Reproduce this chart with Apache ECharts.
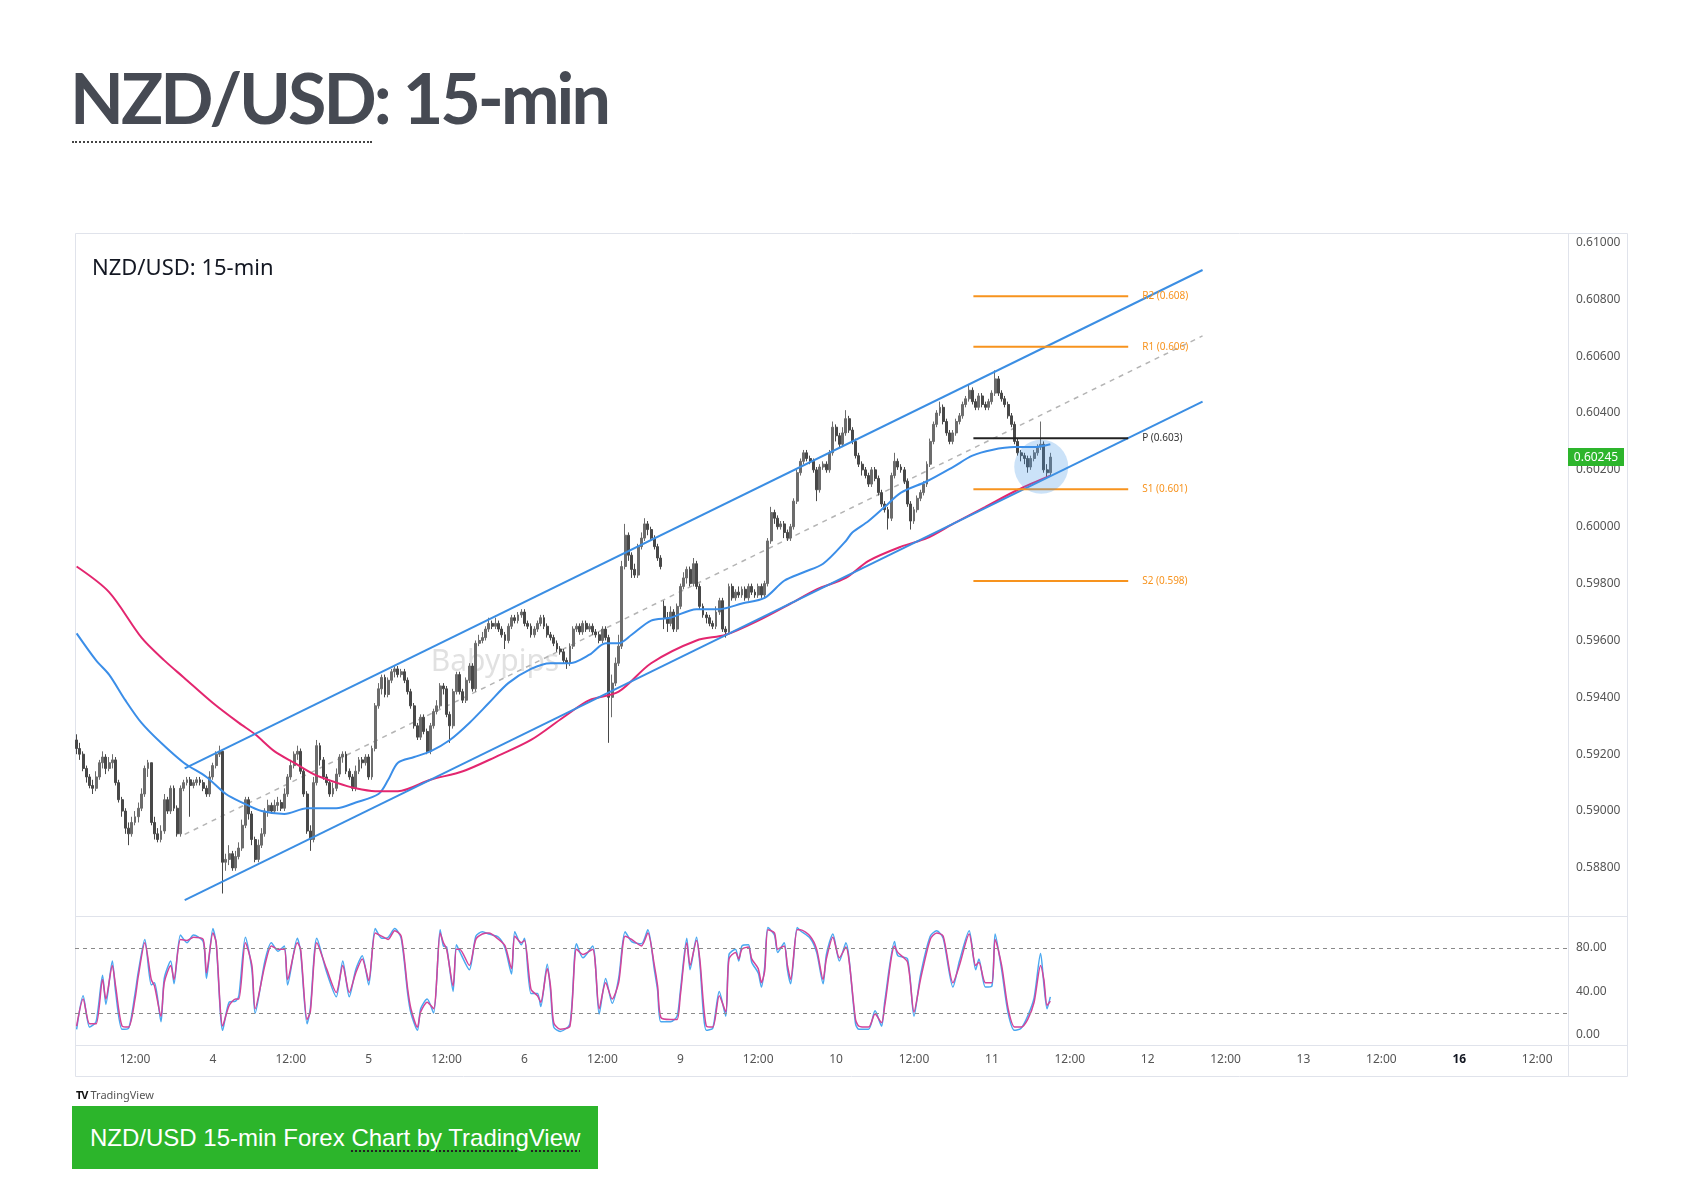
<!DOCTYPE html>
<html><head><meta charset="utf-8">
<script src="https://cdn.jsdelivr.net/npm/echarts@6/dist/echarts.min.js"></script>
<style>
html,body{margin:0;padding:0;background:#fff;width:1697px;height:1179px;overflow:hidden;}
#chart{position:absolute;left:0;top:0;width:1697px;height:1179px;}
#ptitle{position:absolute;left:70px;top:61px;margin:0;font-family:Lato,"Noto Sans",sans-serif;font-weight:700;font-size:70px;letter-spacing:-3px;line-height:72px;color:#464a53;white-space:nowrap;}
#pline{position:absolute;left:72px;top:141px;width:300px;height:0;border-top:2px dotted #444;}
#tv{position:absolute;left:76px;top:1087px;font-family:"Noto Sans",sans-serif;font-size:11px;color:#555;white-space:nowrap;}
#tv b{color:#111;font-size:11px;letter-spacing:-1px;margin-right:3px;}
#btn{position:absolute;left:72px;top:1106px;width:526px;height:63px;background:#2cb52b;display:flex;align-items:center;box-sizing:border-box;padding-left:18px;font-family:"Liberation Sans",Arial,sans-serif;font-size:24px;color:#fff;white-space:nowrap;}
#btn span{text-decoration:underline dotted #222;text-underline-offset:5px;text-decoration-thickness:2px;}
</style></head><body>
<div id="chart"></div>
<h1 id="ptitle">NZD/USD: 15-min</h1>
<div id="pline"></div>
<div id="tv"><b>TV</b>TradingView</div>
<div id="btn">NZD/USD 15-min Forex&nbsp;<span>Chart by TradingView</span></div>
<script>
// ---- time axis (30-min bars starting day 3 at 03:00) ----
const days = [3,4,5,6,9,10,11,12,13,16];
const firstBarMinutes = 180;
const barMinutes = 30;
const nCats = 460;

// ---- price candles [open, close, low, high] in 1e-5 units ----
const candles = [
[59250,59220,59200,59270],[59220,59200,59180,59240],[59200,59150,59140,59210],[59150,59120,59100,59160],[59120,59090,59080,59130],
[59090,59080,59060,59110],[59080,59120,59070,59140],[59120,59170,59110,59180],[59170,59190,59150,59210],[59190,59150,59130,59200],
[59150,59170,59140,59190],[59170,59180,59150,59200],[59180,59100,59090,59190],[59100,59040,59030,59110],[59040,59000,58980,59050],
[59000,58940,58920,59010],[58940,58920,58880,58960],[58920,58960,58910,58980],[58960,58980,58950,59000],[58980,59010,58960,59030],
[59010,59060,59000,59080],[59060,59150,59050,59160],[59150,59170,59120,59180],[59170,58960,58950,59170],[58960,58920,58900,58980],
[58920,58900,58890,58940],[58900,58930,58890,58950],[58930,59040,58920,59060],[59040,59000,58990,59050],[59000,59080,58990,59090],
[59080,59010,59000,59090],[59010,58920,58910,59020],[58920,59080,58910,59090],[59080,59100,59070,59110],[59100,59110,59090,59120],
[59110,59090,58980,59120],[59090,59100,59080,59110],[59100,59110,59090,59120],[59110,59100,59090,59120],[59100,59080,59070,59110],
[59080,59060,59050,59090],[59060,59120,59050,59140],[59120,59160,59110,59170],[59160,59200,59150,59210],[59200,59210,59190,59230],
[59210,58820,58710,59210],[58820,58830,58790,58850],[58830,58850,58810,58880],[58850,58800,58790,58860],[58800,58840,58790,58860],
[58840,58870,58830,58890],[58870,58950,58860,58970],[58950,59040,58940,59050],[59040,58990,58970,59050],[58990,58900,58880,59000],
[58900,58830,58820,58910],[58830,58880,58820,58900],[58880,58920,58870,58940],[58920,59000,58910,59010],[59000,59020,58980,59040],
[59020,59000,58990,59030],[59000,59020,58990,59040],[59020,59030,59000,59050],[59030,59010,59000,59040],[59010,59060,59000,59080],
[59060,59120,59050,59130],[59120,59160,59110,59180],[59160,59200,59150,59210],[59200,59210,59180,59230],[59210,59140,59130,59220],
[59140,59060,59050,59150],[59060,58930,58920,59070],[58930,58900,58860,58950],[58900,59100,58890,59120],[59100,59230,59090,59250],
[59230,59180,59160,59240],[59180,59120,59110,59190],[59120,59100,59090,59130],[59100,59060,59050,59110],[59060,59080,59050,59100],
[59080,59130,59070,59150],[59130,59190,59120,59200],[59190,59200,59170,59210],[59200,59140,59130,59210],[59140,59120,59110,59150],
[59120,59080,59070,59130],[59080,59140,59070,59160],[59140,59180,59130,59190],[59180,59170,59150,59190],[59170,59190,59160,59200],
[59190,59120,59110,59200],[59120,59220,59110,59230],[59220,59370,59210,59380],[59370,59430,59360,59450],[59430,59470,59410,59480],
[59470,59410,59400,59480],[59410,59460,59400,59470],[59460,59490,59450,59500],[59490,59500,59470,59510],[59500,59480,59470,59510],
[59480,59490,59470,59500],[59490,59460,59450,59500],[59460,59420,59410,59470],[59420,59370,59360,59430],[59370,59300,59290,59380],
[59300,59260,59250,59310],[59260,59330,59250,59340],[59330,59280,59270,59340],[59280,59210,59200,59290],[59210,59300,59200,59310],
[59300,59350,59290,59360],[59350,59370,59340,59390],[59370,59440,59360,59450],[59440,59430,59410,59450],[59430,59340,59330,59440],
[59340,59300,59240,59350],[59300,59420,59290,59430],[59420,59480,59410,59490],[59480,59420,59410,59490],[59420,59390,59380,59430],
[59390,59460,59380,59470],[59460,59510,59450,59520],[59510,59430,59420,59520],[59430,59590,59420,59600],[59590,59600,59580,59620],
[59600,59610,59590,59630],[59610,59640,59600,59650],[59640,59660,59630,59680],[59660,59650,59640,59670],[59650,59660,59640,59680],
[59660,59640,59630,59670],[59640,59620,59610,59650],[59620,59600,59570,59630],[59600,59650,59590,59660],[59650,59680,59640,59690],
[59680,59670,59660,59690],[59670,59690,59660,59700],[59690,59700,59680,59710],[59700,59660,59650,59710],[59660,59650,59640,59670],
[59650,59620,59610,59660],[59620,59640,59610,59650],[59640,59660,59630,59670],[59660,59680,59650,59690],[59680,59650,59640,59690],
[59650,59620,59610,59660],[59620,59610,59600,59630],[59610,59590,59580,59620],[59590,59570,59560,59600],[59570,59560,59550,59580],
[59560,59530,59520,59570],[59530,59520,59500,59540],[59520,59580,59510,59590],[59580,59640,59570,59650],[59640,59650,59630,59660],
[59650,59630,59620,59660],[59630,59660,59620,59670],[59660,59640,59630,59670],[59640,59650,59630,59660],[59650,59630,59620,59660],
[59630,59620,59610,59640],[59620,59600,59590,59630],[59600,59640,59590,59650],[59640,59610,59600,59650],[59610,59400,59240,59620],
[59400,59450,59330,59480],[59450,59520,59440,59540],[59520,59580,59510,59620],[59580,59860,59570,59880],[59860,59970,59850,60010],
[59970,59900,59880,59980],[59900,59850,59820,59910],[59850,59830,59820,59870],[59830,59930,59820,59940],[59930,59960,59920,59980],
[59960,60010,59950,60030],[60010,59990,59970,60020],[59990,59960,59950,60000],[59960,59930,59920,59970],[59930,59890,59880,59940],
[59890,59860,59850,59900],[59720,59680,59640,59740],[59680,59660,59630,59700],[59660,59700,59650,59720],[59700,59640,59630,59710],
[59640,59720,59630,59730],[59720,59790,59710,59800],[59790,59820,59780,59840],[59820,59850,59800,59860],[59850,59800,59790,59860],
[59800,59870,59790,59890],[59870,59790,59780,59880],[59790,59720,59710,59800],[59720,59690,59680,59730],[59690,59680,59660,59700],
[59680,59660,59650,59690],[59660,59650,59640,59670],[59650,59700,59640,59720],[59700,59740,59690,59750],[59740,59640,59630,59750],
[59640,59630,59610,59650],[59630,59790,59620,59800],[59790,59750,59740,59800],[59750,59770,59740,59780],[59770,59760,59750,59790],
[59760,59780,59750,59790],[59780,59750,59740,59790],[59750,59790,59740,59800],[59790,59770,59760,59800],[59770,59760,59750,59780],
[59760,59790,59750,59800],[59790,59760,59750,59800],[59760,59800,59750,59810],[59800,59950,59790,59960],[59950,60050,59940,60070],
[60050,60030,60010,60060],[60030,60000,59990,60040],[60000,60010,59990,60020],[60010,59980,59960,60020],[59980,59960,59950,59990],
[59960,60000,59950,60010],[60000,60090,59990,60100],[60090,60190,60080,60200],[60190,60230,60180,60240],[60230,60260,60220,60270],
[60260,60240,60230,60270],[60240,60230,60220,60250],[60230,60200,60190,60240],[60200,60130,60090,60210],[60130,60210,60120,60220],
[60210,60220,60200,60230],[60220,60200,60190,60230],[60200,60260,60190,60270],[60260,60350,60250,60370],[60350,60320,60300,60360],
[60320,60290,60280,60330],[60290,60330,60280,60350],[60330,60380,60320,60410],[60380,60340,60330,60390],[60340,60300,60290,60350],
[60300,60250,60240,60310],[60250,60220,60210,60260],[60220,60200,60180,60230],[60200,60180,60170,60210],[60180,60150,60140,60190],
[60150,60200,60140,60210],[60200,60170,60160,60210],[60170,60120,60110,60180],[60120,60080,60070,60130],[60080,60060,60050,60090],
[60060,60030,59990,60070],[60030,60180,60020,60190],[60180,60230,60170,60260],[60230,60210,60200,60240],[60210,60200,60190,60220],
[60200,60160,60150,60210],[60160,60080,60070,60170],[60080,60020,59990,60090],[60020,60060,60010,60070],[60060,60100,60050,60110],
[60100,60120,60090,60130],[60120,60150,60110,60160],[60150,60220,60140,60230],[60220,60300,60210,60310],[60300,60360,60290,60370],
[60360,60400,60350,60410],[60400,60420,60390,60440],[60420,60370,60360,60430],[60370,60330,60320,60380],[60330,60300,60290,60340],
[60300,60330,60290,60340],[60330,60370,60320,60380],[60370,60390,60360,60400],[60390,60430,60380,60440],[60430,60450,60420,60460],
[60450,60480,60440,60500],[60480,60440,60430,60490],[60440,60420,60410,60450],[60420,60460,60410,60470],[60460,60430,60420,60470],
[60430,60420,60410,60440],[60420,60440,60410,60450],[60440,60470,60430,60480],[60470,60520,60460,60550],[60520,60470,60460,60530],
[60470,60450,60440,60480],[60450,60430,60420,60460],[60430,60390,60380,60440],[60390,60360,60350,60400],[60360,60300,60290,60370],
[60300,60260,60250,60310],[60260,60250,60230,60270],[60250,60240,60220,60260],[60240,60210,60190,60250],[60210,60240,60200,60250],
[60240,60260,60230,60270],[60260,60280,60250,60290],[60280,60290,60270,60370],[60290,60200,60190,60300],[60200,60190,60170,60220],
[60190,60245,60180,60260]
];

// ---- moving averages [barIndex, price] ----
const sma100 = [[0,59625],[6,59530],[10,59480],[15,59390],[20,59310],[26,59240],[33,59170],[40,59120],[46,59060],[51,59030],[57,59000],[64,58990],[71,59010],[80,59010],[86,59030],[93,59060],[96,59110],[99,59170],[104,59190],[109,59210],[115,59250],[121,59310],[127,59380],[133,59450],[140,59500],[146,59520],[152,59520],[158,59550],[163,59590],[167,59590],[171,59620],[177,59670],[183,59680],[191,59710],[198,59710],[205,59730],[212,59750],[218,59810],[224,59840],[230,59870],[237,59950],[239,59980],[244,60020],[249,60070],[254,60120],[262,60160],[270,60210],[276,60250],[282,60270],[289,60280],[295,60280],[300,60290]];
const sma200 = [[0,59860],[10,59770],[20,59610],[27,59530],[33,59470],[42,59380],[50,59310],[55,59270],[61,59210],[67,59170],[73,59130],[80,59100],[86,59080],[92,59070],[99,59070],[109,59110],[119,59140],[129,59190],[140,59250],[150,59330],[158,59390],[167,59420],[177,59520],[191,59600],[200,59620],[210,59670],[220,59730],[228,59780],[237,59820],[244,59880],[254,59930],[262,59960],[270,60010],[280,60070],[290,60130],[300,60180]];

// ---- drawn channel [barIndex, price] ----
const channelUpper = [[33.3,59150],[346.9,60903]];
const channelLower = [[33.3,58687],[346.9,60440]];
const channelMid = [[33.3,58918],[346.9,60671]];

// ---- pivot levels ----
const pivotNames = ['R2 (0.608)','R1 (0.606)','P (0.603)','S1 (0.601)','S2 (0.598)'];
const pivotValues = [60811,60633,60311,60132,59809];
const pivotStart = 276.3, pivotEnd = 324;
const highlight = [297.2,60211];

// ---- stochastic [barIndex, value] ----
const stochD = [[0,8],[2,33],[4,10],[6,10],[8,51],[9,33],[11,64],[12,45],[14,8],[16,7],[18,33],[19,54],[21,85],[23,51],[24,45],[26,17],[27,48],[29,64],[30,51],[32,88],[34,87],[36,90],[39,88],[40,57],[42,94],[43,85],[45,8],[47,27],[49,33],[50,33],[52,85],[54,64],[55,24],[58,64],[60,82],[62,79],[64,79],[65,51],[68,85],[69,79],[71,14],[72,21],[74,85],[77,61],[80,39],[82,64],[84,39],[86,57],[88,70],[90,50],[92,94],[94,91],[96,88],[98,96],[100,91],[102,42],[103,24],[105,7],[106,21],[108,30],[110,24],[112,94],[113,85],[114,79],[116,45],[117,79],[118,79],[121,64],[123,88],[125,93],[127,94],[130,88],[132,82],[134,61],[135,91],[137,85],[138,87],[140,42],[142,36],[143,30],[145,61],[146,45],[147,11],[149,5],[152,8],[154,79],[156,74],[159,79],[161,24],[163,48],[165,33],[167,48],[169,91],[171,88],[174,82],[176,94],[178,64],[179,45],[180,16],[183,14],[185,14],[186,36],[188,85],[189,64],[191,87],[192,70],[194,8],[196,7],[198,36],[200,21],[201,70],[203,76],[204,70],[205,79],[207,81],[208,70],[210,61],[211,48],[212,59],[213,97],[215,94],[216,79],[218,82],[219,64],[220,51],[222,97],[223,97],[226,91],[228,79],[230,51],[231,70],[233,90],[235,71],[237,81],[240,14],[241,8],[244,7],[246,19],[248,11],[249,27],[252,82],[253,76],[256,67],[258,21],[260,51],[263,88],[265,94],[267,91],[270,48],[272,64],[275,93],[277,64],[278,67],[280,48],[282,48],[283,88],[285,64],[287,24],[289,7],[291,7],[293,14],[295,30],[297,64],[298,51],[299,27],[300,31]];
const stochK = [[0,5],[2,36],[4,7],[6,12],[8,55],[9,28],[11,68],[12,40],[14,5],[16,6],[18,38],[19,58],[21,88],[23,46],[24,48],[26,12],[27,52],[29,68],[30,47],[32,92],[34,85],[36,92],[39,86],[40,52],[42,98],[43,84],[45,4],[47,30],[49,31],[50,36],[52,90],[54,60],[55,20],[58,68],[60,85],[62,77],[64,82],[65,46],[68,89],[69,77],[71,10],[72,24],[74,89],[77,58],[80,35],[82,68],[84,35],[86,60],[88,73],[90,46],[92,98],[94,89],[96,90],[98,98],[100,89],[102,38],[103,20],[105,4],[106,24],[108,33],[110,20],[112,97],[113,82],[114,81],[116,40],[117,83],[118,77],[121,60],[123,91],[125,95],[127,93],[130,90],[132,80],[134,56],[135,95],[137,83],[138,89],[140,38],[142,38],[143,26],[145,65],[146,41],[147,7],[149,3],[152,10],[154,84],[156,71],[159,82],[161,19],[163,52],[165,29],[167,52],[169,95],[171,86],[174,84],[176,97],[178,60],[179,41],[180,12],[183,12],[185,17],[186,40],[188,89],[189,60],[191,90],[192,66],[194,4],[196,6],[198,40],[200,17],[201,74],[203,79],[204,68],[205,82],[207,83],[208,67],[210,57],[211,44],[212,63],[213,99],[215,92],[216,76],[218,85],[219,60],[220,47],[222,99],[223,96],[226,89],[228,76],[230,47],[231,74],[233,93],[235,68],[237,85],[240,10],[241,5],[244,5],[246,22],[248,8],[249,31],[252,86],[253,73],[256,70],[258,17],[260,55],[263,91],[265,96],[267,89],[270,44],[272,68],[275,96],[277,60],[278,70],[280,44],[282,45],[283,93],[285,60],[287,20],[289,4],[291,6],[293,17],[295,34],[297,75],[298,47],[299,24],[300,35]];
const stochBands = [80,20];

// ---- build category labels ----
const pad = n => (n < 10 ? '0' : '') + n;
const cats = [], tLabels = [];
for (let i = 0; i < nCats; i++) {
  const m = firstBarMinutes + i * barMinutes;
  const d = days[Math.floor(m / 1440)];
  const mm = m % 1440;
  cats.push(d + ' ' + pad(Math.floor(mm / 60)) + ':' + pad(mm % 60));
  tLabels.push(mm === 0 ? String(d) : (mm === 720 ? '12:00' : ''));
}
const lastClose = candles[candles.length - 1][1];
const FONT = '"Noto Sans", sans-serif';

const chart = echarts.init(document.getElementById('chart'), null, {renderer: 'canvas'});
const lineS = (data, color, width, extra) => Object.assign({
  type: 'line', xAxisIndex: 1, yAxisIndex: 0, data: data, showSymbol: false, symbol: 'none',
  lineStyle: {color: color, width: width}, itemStyle: {color: color}, clip: false, silent: true
}, extra || {});

const series = [
  {type: 'candlestick', xAxisIndex: 0, yAxisIndex: 0, data: candles, barWidth: 2.4, clip: false, z: 3,
   itemStyle: {color: '#6c6c6c', color0: '#484848', borderColor: '#6c6c6c', borderColor0: '#484848', borderWidth: 1}},
  lineS(sma100, '#3b8ee8', 2, {z: 4, smooth: 0.3}),
  lineS(sma200, '#e3266f', 2, {z: 4, smooth: 0.3}),
  lineS(channelUpper, '#3b8ee3', 2, {z: 5}),
  lineS(channelLower, '#3b8ee3', 2, {z: 5}),
  lineS(channelMid, '#b4b4b4', 1.5, {lineStyle: {color: '#b4b4b4', width: 1.5, type: [5,5]}, z: 2})
];
pivotValues.forEach((v, k) => {
  const isP = pivotNames[k].charAt(0) === 'P';
  const col = isP ? '#222222' : '#f7931e';
  series.push(lineS([[pivotStart, v],[pivotEnd, v]], col, 2, {z: 5,
    endLabel: {show: true, formatter: pivotNames[k], color: isP ? '#333' : '#f7931e', fontSize: 10, fontFamily: FONT, distance: 14}}));
});
series.push({type: 'scatter', xAxisIndex: 1, yAxisIndex: 0, data: [highlight], symbolSize: 54, silent: true, z: 6,
  itemStyle: {color: 'rgba(70,150,230,0.35)'}});
series.push({type: 'line', xAxisIndex: 3, yAxisIndex: 1, data: stochK, showSymbol: false, symbol: 'none', silent: true,
  smooth: 0.25, lineStyle: {color: '#4aa8f0', width: 1.5}, z: 3,
  markLine: {silent: true, symbol: ['none','none'], label: {show: false},
    lineStyle: {color: '#8a8a8a', type: [4,4], width: 1}, data: stochBands.map(b => ({yAxis: b}))}});
series.push({type: 'line', xAxisIndex: 3, yAxisIndex: 1, data: stochD, showSymbol: false, symbol: 'none', silent: true,
  smooth: 0.25, lineStyle: {color: '#d2449a', width: 1.5}, z: 4});

const hidden = {show: false};
const graphics = [
  {type: 'rect', silent: true, z: 0, shape: {x: 75.5, y: 233.5, width: 1552, height: 843}, style: {fill: 'none', stroke: '#e0e3eb', lineWidth: 1}},
  {type: 'line', silent: true, z: 0, shape: {x1: 76, y1: 916.5, x2: 1628, y2: 916.5}, style: {stroke: '#e0e3eb', lineWidth: 1}},
  {type: 'line', silent: true, z: 0, shape: {x1: 76, y1: 1045.5, x2: 1628, y2: 1045.5}, style: {stroke: '#e0e3eb', lineWidth: 1}},
  {type: 'line', silent: true, z: 0, shape: {x1: 1568.5, y1: 233, x2: 1568.5, y2: 1077}, style: {stroke: '#e0e3eb', lineWidth: 1}},
  {type: 'text', silent: true, z: 0, x: 495, y: 662, style: {text: 'Babypips', fill: 'rgba(120,120,120,0.22)', font: '30px "Noto Sans", sans-serif', align: 'center', verticalAlign: 'middle', textAlign: 'center', textVerticalAlign: 'middle'}}
];
chart.setOption({
  animation: false,
  title: {text: 'NZD/USD: 15-min', left: 87, top: 253, textStyle: {fontFamily: FONT, fontSize: 22, fontWeight: 'normal', color: '#131722'}},
  grid: [
    {left: 75, right: 129, top: 242.4, height: 682.4},
    {left: 75, right: 129, top: 926.4, height: 108.3}
  ],
  xAxis: [
    {type: 'category', gridIndex: 0, data: cats, boundaryGap: true, show: false},
    {type: 'value', gridIndex: 0, min: -0.5, max: nCats - 0.5, show: false},
    {type: 'category', gridIndex: 1, data: cats, boundaryGap: true,
     axisLine: hidden, axisTick: hidden, splitLine: hidden,
     axisLabel: {margin: 19, fontSize: 12, fontFamily: FONT, color: '#555',
       interval: (idx) => tLabels[idx] !== '', hideOverlap: false,
       formatter: (val, idx) => tLabels[idx] === '16' ? '{b|16}' : tLabels[idx],
       rich: {b: {fontWeight: 'bold', color: '#131722', fontSize: 12, fontFamily: FONT}}}},
    {type: 'value', gridIndex: 1, min: -0.5, max: nCats - 0.5, show: false}
  ],
  yAxis: [
    {type: 'value', gridIndex: 0, position: 'right', min: 58600, max: 61000, interval: 200,
     axisLine: hidden, axisTick: hidden, splitLine: hidden,
     axisLabel: {margin: 8, fontSize: 12, fontFamily: FONT, color: '#555',
       formatter: v => v < 58800 ? '' : (v / 1e5).toFixed(5)}},
    {type: 'value', gridIndex: 1, position: 'right', min: 0, max: 100, interval: 40,
     axisLine: hidden, axisTick: hidden, splitLine: hidden,
     axisLabel: {margin: 8, fontSize: 12, fontFamily: FONT, color: '#555', showMaxLabel: false,
       formatter: v => (v % 40 === 0 ? v.toFixed(2) : '')}}
  ],
  graphic: graphics,
  series: series
});
// last-price tag on the price scale, placed through the axis scale
const py = chart.convertToPixel({yAxisIndex: 0}, lastClose);
graphics.push({type: 'rect', silent: true, z: 20, shape: {x: 1568, y: py - 9, width: 56, height: 18}, style: {fill: '#2db52c'}});
graphics.push({type: 'text', silent: true, z: 21, x: 1596, y: py + 0.5, style: {text: (lastClose / 1e5).toFixed(5), fill: '#fff', font: '12px "Noto Sans", sans-serif', align: 'center', verticalAlign: 'middle', textAlign: 'center', textVerticalAlign: 'middle'}});
chart.setOption({graphic: graphics});
</script>
</body></html>
